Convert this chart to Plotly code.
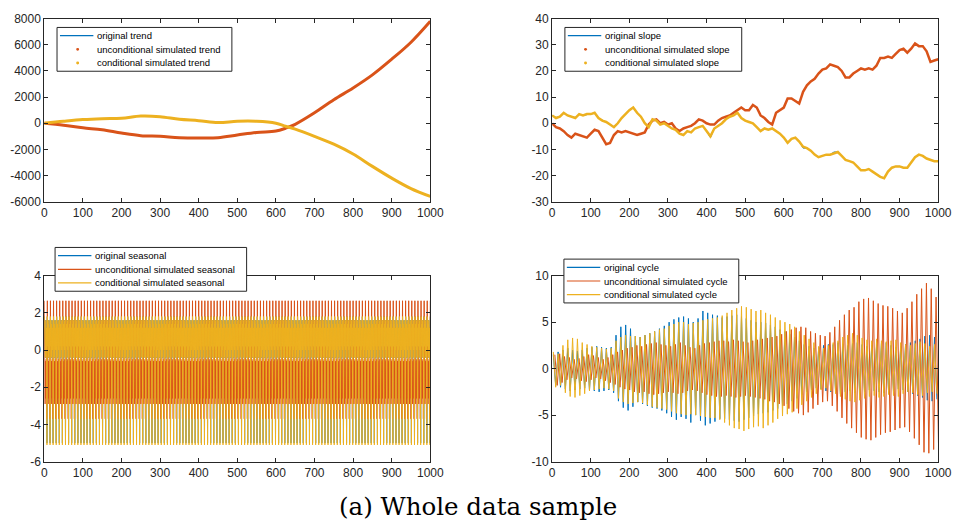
import numpy as np
import plotly.graph_objects as go

BLUE = "#0072BD"
ORANGE = "#D95319"
YELLOW = "#EDB120"
AX = "#262626"

# ---------------- trend (top-left) ----------------
trend_t = [0, 50, 100, 150, 200, 250, 300, 350, 400, 450, 500, 550, 600, 625, 650,
           700, 750, 800, 850, 900, 950, 1000]
trend_uncond = [0, -150, -350, -500, -750, -950, -1000, -1100, -1120, -1100, -900, -700,
                -600, -380, -80, 800, 1800, 2700, 3700, 4900, 6200, 7800]
trend_cond = [0, 150, 280, 350, 380, 550, 500, 300, 200, 50, 150, 150, 0, -230, -450,
              -1000, -1600, -2350, -3300, -4200, -5000, -5600]
trend_orig = [0, 150, 280, 350, 380, 550, 500, 300, 200, 50, 150, 150, 0, -230, -450,
              -1000, -1600, -2350, -3300, -4200, -5000, -5600]

# ---------------- slope (top-right) ----------------
slope_t = list(range(0, 1001, 10))
slope_uncond = [0, -1.5, -2, -3, -4.5, -5.5, -4, -4.5, -5, -5.5, -4, -2.5, -3, -5.5, -8,
                -7.5, -4.5, -3, -3.5, -3, -3.5, -4, -4.5, -4, -3.5, -0.5, 1, 1.5, 0, 0.5,
                -0.5, 0, -2, -3, -2, -1.5, -1, 0, 1.5, 1, 0, -0.5, -0.5, 1, 2, 2.5, 3, 4,
                5, 6, 5, 5, 7, 6, 3, 2, 0.5, -0.5, 4, 5, 6, 9.5, 9.5, 8.5, 7.5, 12, 14.5,
                16, 17, 19, 20.5, 21, 22.5, 22, 21.5, 20, 17.5, 17.5, 19, 20, 21, 20.5, 21,
                20.5, 22, 25, 25, 25.5, 25, 26.5, 28, 28.5, 27, 28.5, 30.5, 29.5, 29.5,
                27.5, 23.5, 24, 24.5]
slope_cond = [3, 2, 2.5, 4, 3, 2.5, 2, 3.5, 3, 3.5, 3.5, 4, 2, 1, 0.5, -0.5, -1.5, 0, 2,
              3.5, 5, 6, 4, 2.5, 0, -1.5, 1.5, 1, -0.5, 0, -1, -2, -2.5, -4, -4.5, -3,
              -3.5, -2, -1.5, -1, -3, -5, -2, -1, 0, 1.5, 2.5, 3, 4, 2, 1, 0.5, 0, -1.5,
              -3, -2, -2.5, -2, -3, -4, -5.5, -7.5, -6, -5.5, -7, -9, -9.5, -10.5, -12,
              -13, -12.5, -12, -12, -11.5, -11, -12.5, -14, -14.5, -15, -16.5, -18, -18,
              -17.5, -18.5, -19.5, -20.5, -21, -18.5, -17, -16.5, -16.5, -17, -17, -15,
              -13, -12, -12.5, -13.5, -14, -14.5, -14.5]
slope_orig = [3, 2.2, 2.5, 3.8, 3, 2.5, 2.2, 3.5, 3, 3.3, 3.5, 3.8, 2, 1.2, 0.5, -0.5,
              -1.3, 0, 2, 3.5, 5, 5.8, 4, 2.5, 0.2, -1.3, 1.5, 1, -0.5, 0, -1, -2, -2.5,
              -3.8, -4.5, -3, -3.5, -2, -1.5, -1, -3, -5.5, -2, -1, 0, 1.5, 2.5, 3, 4, 2,
              1, 0.5, 0, -1.5, -3, -2, -2.5, -2, -3, -4, -5.5, -7.5, -6, -5.5, -7, -9.5,
              -9.5, -10.5, -12, -13, -12.5, -12, -12, -11, -11, -12.5, -14, -14.5, -15,
              -16.5, -18, -18, -17.5, -18.5, -19.5, -20.5, -21, -18.5, -17, -16.5, -16.5,
              -17, -17, -15, -13, -12, -12.5, -13.5, -14, -14.5, -14.5]

# ---------------- seasonal (bottom-left): one repeating season ----------------
season_orig = [1.8, 0.2, 1.4, -0.4, 1.6, 0.0, 1.2, -5.0]
season_uncond = [2.65, -0.4, -2.9, -0.6, -2.6, -0.5, -3.7, -0.4]
season_cond = [1.8, 0.2, 1.4, -0.4, 1.6, 0.0, 1.2, -5.1]
season_len = 1001

# ---------------- cycle (bottom-right): peak / trough per cycle ----------------
cycle_period = 12.5
cyc_orig_peak = [1.5, 1.8, 2.0, 2.2, 2.0, 1.9, 2.0, 2.2, 2.3, 2.4, 2.3, 2.2, 2.3,
                 3.6, 4.5, 4.7, 4.3,
                 3.5, 3.4, 3.6, 3.8, 4.0, 4.3, 4.6, 5.0,
                 5.3, 5.5, 5.6, 5.4, 5.0, 5.4, 6.2, 6.0, 5.8, 5.7,
                 5.5, 5.6, 5.7, 5.8, 5.6, 5.4, 5.2, 5.0, 5.0, 4.9,
                 4.7, 4.5, 4.2, 4.0, 3.7, 3.4, 3.0, 2.6,
                 2.4, 2.2, 2.3, 2.5, 2.6,
                 2.6, 2.8, 2.6, 2.5, 2.7, 2.8, 2.6, 2.4, 2.5, 2.6, 2.7, 2.8, 2.5, 2.3,
                 2.4, 2.6, 2.8, 3.0, 3.2, 3.5, 3.6, 3.4]
cyc_orig_trough = [-1.8, -2.0, -2.2, -2.4, -2.3, -2.2, -2.1, -2.3, -2.4, -2.5, -2.4, -2.3, -2.6,
                   -3.5, -4.2, -4.5, -4.1,
                   -3.6, -3.8, -4.0, -4.2, -4.3, -4.5, -4.8, -5.2,
                   -5.5, -5.2, -5.4, -5.8, -5.0, -5.6, -6.1, -5.9, -5.7, -5.4,
                   -5.4, -5.5, -5.6, -5.7, -5.5, -5.3, -5.1, -4.9, -4.8, -4.7,
                   -4.5, -4.3, -4.0, -3.8, -3.5, -3.2, -2.8, -2.5,
                   -2.3, -2.1, -2.2, -2.4, -2.5,
                   -2.5, -2.7, -2.5, -2.4, -2.6, -2.7, -2.5, -2.3, -2.4, -2.5, -2.6, -2.7,
                   -2.4, -2.2, -2.3, -2.5, -2.7, -2.9, -3.1, -3.4, -3.5, -3.3]
cyc_uncond_peak = [1.5, 1.6, 1.3, 1.2, 1.0, 1.1, 1.3, 1.5, 1.4, 1.2, 1.0, 1.2, 1.5,
                   1.8, 2.0, 2.2, 2.3, 2.5, 2.4, 2.6, 2.7, 2.8, 2.6, 2.5, 2.4,
                   2.6, 2.8, 2.5, 2.3, 2.2, 2.5, 2.7, 2.8, 2.9, 3.0,
                   3.0, 2.9, 3.1, 3.0, 2.9, 2.8, 3.0, 3.1, 3.2, 3.3,
                   3.4, 3.5, 3.7, 4.0, 4.2, 4.4, 4.5, 4.4,
                   4.0, 3.8, 3.6, 3.5, 3.9,
                   4.5, 5.2, 5.8, 6.3, 6.6, 7.2, 7.5, 7.6, 7.3, 7.0, 6.8, 6.7, 6.5, 6.2,
                   6.0, 6.5, 7.2, 8.0, 8.6, 9.2, 8.6, 7.7]
cyc_uncond_trough = [-1.8, -1.5, -1.2, -1.0, -1.1, -1.3, -1.4, -1.2, -1.0, -1.1, -1.3, -1.5, -1.7,
                     -2.0, -2.2, -2.3, -2.5, -2.6, -2.5, -2.7, -2.8, -2.7, -2.6, -2.5, -2.6,
                     -2.7, -2.6, -2.4, -2.3, -2.4, -2.6, -2.8, -2.9, -3.0, -3.0,
                     -2.9, -3.0, -3.1, -3.0, -2.9, -3.0, -3.1, -3.2, -3.3, -3.5,
                     -3.6, -3.8, -4.0, -4.3, -4.6, -4.8, -5.0, -4.7,
                     -4.3, -3.9, -3.6, -3.5, -4.0,
                     -4.6, -5.3, -5.9, -6.4, -6.9, -7.4, -7.6, -7.7, -7.4, -7.1, -6.9, -6.8,
                     -6.6, -6.4, -6.3, -6.8, -7.5, -8.2, -9.0, -9.1, -8.7, -8.0]
cyc_cond_peak = [1.8, 1.6, 2.5, 3.1, 3.3, 3.2, 2.8, 2.6, 2.4, 2.3, 2.2, 2.1, 2.2,
                 3.0, 3.4, 3.6, 3.5,
                 3.5, 3.4, 3.6, 3.8, 4.0, 4.2, 4.3, 4.6,
                 4.8, 5.0, 5.0, 4.8, 4.9, 5.0, 5.2, 5.3, 5.4, 5.5,
                 5.7, 6.0, 6.3, 6.5, 6.7, 6.6, 6.4, 6.2, 6.3, 6.0,
                 5.8, 5.5, 5.2, 5.0, 4.8, 4.5, 4.0, 3.6,
                 3.2, 2.8, 2.4, 2.2, 2.5,
                 2.8, 3.0, 3.4, 3.6, 3.8, 3.6, 3.3, 3.1, 3.0, 3.2, 3.0, 2.9, 3.0, 3.1,
                 2.8, 2.6, 2.5, 2.7, 2.9, 2.7, 2.4, 2.6]
cyc_cond_trough = [-2.0, -1.8, -2.6, -3.0, -3.1, -2.9, -2.7, -2.4, -2.3, -2.2, -2.1, -2.2, -2.4,
                   -3.2, -3.6, -3.8, -3.7,
                   -3.6, -3.7, -3.9, -4.1, -4.2, -4.3, -4.4, -4.6,
                   -4.8, -4.9, -5.0, -4.9, -5.0, -5.1, -5.2, -5.3, -5.3, -5.5,
                   -5.8, -6.1, -6.4, -6.5, -6.7, -6.5, -6.3, -6.2, -6.4, -6.1,
                   -5.8, -5.4, -5.1, -4.9, -4.7, -4.3, -3.9, -3.5,
                   -3.1, -2.7, -2.3, -2.1, -2.4,
                   -2.7, -3.0, -3.3, -3.5, -3.6, -3.4, -3.2, -3.0, -2.9, -3.1, -3.0, -2.8,
                   -2.9, -3.0, -2.7, -2.5, -2.6, -2.8, -2.9, -2.6, -2.5, -2.7]

x_ticks = [0, 100, 200, 300, 400, 500, 600, 700, 800, 900, 1000]
trend_ticks = [-6000, -4000, -2000, 0, 2000, 4000, 6000, 8000]
slope_ticks = [-30, -20, -10, 0, 10, 20, 30, 40]
season_ticks = [-6, -4, -2, 0, 2, 4]
cycle_ticks = [-10, -5, 0, 5, 10]

labels_trend = ["original trend", "unconditional simulated trend", "conditional simulated trend"]
labels_slope = ["original slope", "unconditional simulated slope", "conditional simulated slope"]
labels_season = ["original seasonal", "unconditional simulated seasonal", "conditional simulated seasonal"]
labels_cycle = ["original cycle", "unconditional simulated cycle", "conditional simulated cycle"]
caption = "(a) Whole data sample"


def zigzag(peaks, troughs, phase):
    t, v = [], []
    for k, (p, q) in enumerate(zip(peaks, troughs)):
        t += [k * cycle_period + phase, k * cycle_period + phase + cycle_period / 2]
        v += [p, q]
    return t, v


fig = go.Figure()

# ---- top-left: trend
fig.add_trace(go.Scatter(x=trend_t, y=trend_orig, mode="lines", line=dict(color=BLUE, width=1, shape="spline"),
                         xaxis="x", yaxis="y"))
fig.add_trace(go.Scatter(x=trend_t, y=trend_uncond, mode="lines", line=dict(color=ORANGE, width=3, shape="spline"),
                         xaxis="x", yaxis="y"))
fig.add_trace(go.Scatter(x=trend_t, y=trend_cond, mode="lines", line=dict(color=YELLOW, width=3, shape="spline"),
                         xaxis="x", yaxis="y"))

# ---- top-right: slope
fig.add_trace(go.Scatter(x=slope_t, y=slope_orig, mode="lines", line=dict(color=BLUE, width=1),
                         xaxis="x2", yaxis="y2"))
fig.add_trace(go.Scatter(x=slope_t, y=slope_uncond, mode="lines", line=dict(color=ORANGE, width=2.5),
                         xaxis="x2", yaxis="y2"))
fig.add_trace(go.Scatter(x=slope_t, y=slope_cond, mode="lines", line=dict(color=YELLOW, width=2.5),
                         xaxis="x2", yaxis="y2"))

# ---- bottom-left: seasonal
st = np.arange(season_len)
for pat, col in zip([season_orig, season_uncond, season_cond], [BLUE, ORANGE, YELLOW]):
    vals = np.array(pat)[st % len(pat)]
    fig.add_trace(go.Scatter(x=st, y=vals, mode="lines", line=dict(color=col, width=1),
                             xaxis="x3", yaxis="y3"))

# ---- bottom-right: cycle
for (pk, tr, ph), col in zip([(cyc_orig_peak, cyc_orig_trough, 3.0),
                               (cyc_uncond_peak, cyc_uncond_trough, 7.0),
                               (cyc_cond_peak, cyc_cond_trough, 3.0)],
                              [BLUE, ORANGE, YELLOW]):
    ct, cv = zigzag(pk, tr, ph)
    fig.add_trace(go.Scatter(x=ct, y=cv, mode="lines", line=dict(color=col, width=1),
                             xaxis="x4", yaxis="y4"))

W, H = 963, 527


def px_dom(a, b, total):
    return [a / total, b / total]


def ydom(top, bottom):
    return [1 - bottom / H, 1 - top / H]


tickfont = dict(family="Liberation Sans, Arial, sans-serif", size=12, color=AX)


def xax(dom, anchor):
    return dict(domain=dom, anchor=anchor, range=[0, 1000], tickvals=x_ticks,
                ticktext=[str(v) for v in x_ticks], ticks="inside", ticklen=4, tickcolor=AX,
                showline=True, linecolor=AX, linewidth=1, mirror="ticks", showgrid=False,
                zeroline=False, tickfont=tickfont)


def yax(dom, anchor, rng, tv):
    return dict(domain=dom, anchor=anchor, range=rng, tickvals=tv,
                ticktext=[str(v) for v in tv], ticks="inside", ticklen=4, tickcolor=AX,
                showline=True, linecolor=AX, linewidth=1, mirror="ticks", showgrid=False,
                zeroline=False, tickfont=tickfont)


xl = px_dom(42, 435, W)
xr = px_dom(559, 952, W)
yt = ydom(12, 200)
yb = ydom(276, 467)

# ---- MATLAB-style legends drawn as shapes + text (pixel boxes)
legfont = dict(family="Liberation Sans, Arial, sans-serif", size=9.5, color="#000000")
shapes = []
annotations = []


def px(x):
    return x / W


def py(y):
    return 1 - y / H


def add_legend(x0, y0, x1, labels, dots):
    y1 = y0 + 45
    shapes.append(dict(type="rect", xref="paper", yref="paper", x0=px(x0), x1=px(x1),
                       y0=py(y1), y1=py(y0), fillcolor="white", line=dict(color=AX, width=1),
                       layer="above"))
    cols = [BLUE, ORANGE, YELLOW]
    for i, (lab, col) in enumerate(zip(labels, cols)):
        yy = y0 + 8.5 + 14 * i
        if dots and i > 0:
            cx = x0 + 21
            shapes.append(dict(type="circle", xref="paper", yref="paper",
                               x0=px(cx - 1.5), x1=px(cx + 1.5), y0=py(yy + 1.5), y1=py(yy - 1.5),
                               fillcolor=col, line=dict(color=col, width=0), layer="above"))
        else:
            shapes.append(dict(type="line", xref="paper", yref="paper", x0=px(x0 + 3), x1=px(x0 + 37),
                               y0=py(yy), y1=py(yy), line=dict(color=col, width=1.2), layer="above"))
        annotations.append(dict(text=lab, x=px(x0 + 39), y=py(yy), xref="paper", yref="paper",
                                xanchor="left", yanchor="middle", showarrow=False, font=legfont))


add_legend(55, 21, 233, labels_trend, True)
add_legend(572, 21, 752, labels_slope, True)
add_legend(53, 247, 248, labels_season, False)
add_legend(571, 259, 749, labels_cycle, False)

annotations.append(dict(text=caption, x=px(484), y=py(513), xref="paper", yref="paper",
                        xanchor="center", yanchor="middle", showarrow=False,
                        font=dict(family="DejaVu Serif, serif", size=24.5, color="#000000")))

fig.update_layout(
    width=W, height=H, margin=dict(l=0, r=0, t=0, b=0),
    paper_bgcolor="white", plot_bgcolor="white", showlegend=False,
    xaxis=xax(xl, "y"), yaxis=yax(yt, "x", [-6000, 8000], trend_ticks),
    xaxis2=xax(xr, "y2"), yaxis2=yax(yt, "x2", [-30, 40], slope_ticks),
    xaxis3=xax(xl, "y3"), yaxis3=yax(yb, "x3", [-6, 4], season_ticks),
    xaxis4=xax(xr, "y4"), yaxis4=yax(yb, "x4", [-10, 10], cycle_ticks),
    shapes=shapes, annotations=annotations,
)

fig.write_html("out.html")
